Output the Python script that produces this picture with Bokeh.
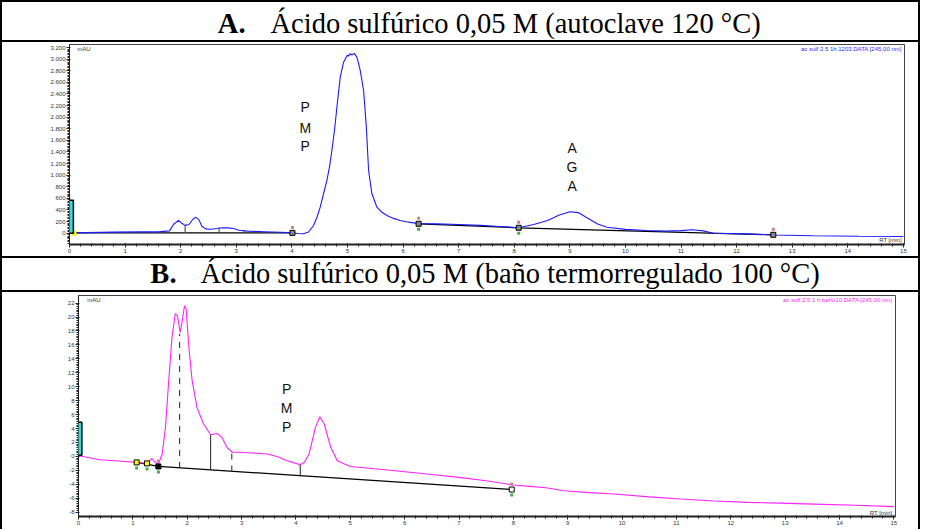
from bokeh.plotting import figure
from bokeh.models import Range1d, FixedTicker, Label, Spacer
from bokeh.layouts import column, row
from bokeh.embed import file_html
from bokeh.resources import INLINE
from bokeh.core.properties import value

# ---------------- Panel A data (autoclave 120 °C) ----------------
rt_a = [0, 0.3, 0.8, 1.3, 1.6, 1.8, 1.87, 1.96, 2.02, 2.08, 2.15, 2.22, 2.27, 2.33, 2.38,
        2.45, 2.55, 2.65, 2.75, 2.85, 2.95, 3.05, 3.2, 3.5, 3.8, 4.01, 4.1, 4.21, 4.3,
        4.39, 4.45, 4.51, 4.57, 4.63, 4.68, 4.72, 4.77, 4.81, 4.87, 4.93, 4.97, 5.0,
        5.02, 5.05, 5.08, 5.12, 5.17, 5.23, 5.29, 5.34, 5.38, 5.44, 5.53, 5.62, 5.71,
        5.83, 5.95, 6.1, 6.28, 6.6, 7.0, 7.4, 7.8, 8.08, 8.35, 8.6, 8.8, 9.0, 9.15, 9.3,
        9.5, 9.67, 10.0, 10.38, 10.74, 11.0, 11.2, 11.4, 11.58, 12.18, 12.66, 13.38,
        14.2, 15.0]
mau_a = [0, 10, 18, 22, 22, 40, 150, 220, 170, 135, 150, 240, 276, 230, 120,
         75, 68, 80, 95, 92, 80, 50, 35, 25, 15, 6, -5, -10, 20,
         133, 270, 448, 680, 909, 1160, 1426, 1800, 2172, 2690, 2948, 3020, 3070,
         3052, 3095, 3070, 3100, 3035, 2805, 2460, 1828, 1081, 679, 448, 360, 305,
         255, 219, 190, 165, 160, 150, 135, 112, 95, 150, 219, 310, 370, 355, 270,
         160, 103, 65, 47, 35, 45, 60, 40, 0, -12, -30, -45,
         -52, -57]
base_a1_rt = [0.05, 4.01]
base_a1_mau = [5, 5]
base_a2_rt = [6.28, 8.08, 12.66]
base_a2_mau = [162, 93, -28]
drop_a_rt = [1.6, 2.08, 2.69, 3.14, 10.74]
drop_a_low = [5, 5, 5, 5, 23]
drop_a_high = [24, 135, 92, 40, 36]
mark_a_rt = [4.01, 6.28, 8.08, 12.66]
mark_a_mau = [5, 162, 93, -28]
start_a_rt = [0.08]
start_a_mau = [0]
pmp_a_rt = [4.24, 4.24, 4.24]
pmp_a_mau = [2167, 1822, 1495]
pmp_a_txt = ["P", "M", "P"]
aga_a_rt = [9.04, 9.04, 9.04]
aga_a_mau = [1476, 1148, 819]
aga_a_txt = ["A", "G", "A"]
y_ticks_a = [-200, 0, 200, 400, 600, 800, 1000, 1200, 1400, 1600, 1800, 2000,
             2200, 2400, 2600, 2800, 3000, 3200]
y_labels_a = ["-200", "0", "200", "400", "600", "800", "1.000", "1.200", "1.400",
              "1.600", "1.800", "2.000", "2.200", "2.400", "2.600", "2.800",
              "3.000", "3.200"]

# ---------------- Panel B data (baño termorregulado 100 °C) ----------------
rt_b = [0, 0.4, 0.8, 1.07, 1.2, 1.26, 1.31, 1.35, 1.41, 1.47, 1.54, 1.6, 1.66, 1.72,
        1.78, 1.82, 1.87, 1.9, 1.95, 1.98, 2.03, 2.09, 2.18, 2.3, 2.43, 2.55, 2.64,
        2.73, 2.83, 2.98, 3.2, 3.47, 3.65, 3.84, 4.0, 4.08, 4.16, 4.24, 4.36, 4.44,
        4.52, 4.64, 4.76, 5.0, 5.5, 6.0, 6.5, 7.0, 7.5, 8.0, 8.3, 8.6, 8.93, 9.4,
        9.85, 10.5, 11.08, 11.7, 12.31, 12.9, 13.54, 14.3, 15.0]
mau_b = [0.1, -0.47, -0.7, -0.86, -0.95, -1.0, -0.6, -0.3, -0.86, -1.1, 0.34, 4.2,
         10.9, 17.1, 20.5, 20.2, 17.8, 19.0, 21.6, 21.2, 15.7, 10.9, 7.0, 4.65, 3.1,
         3.3, 2.7, 1.3, 0.6, 0.6, 0.5, 0.34, 0.0, -0.62, -1.0, -1.2, -0.8, 0.34, 4.2,
         5.7, 4.65, 1.3, -0.62, -1.44, -1.8, -2.2, -2.6, -3.0, -3.5, -4.1, -4.3,
         -4.5, -4.93, -5.2, -5.4, -5.8, -6.1, -6.4, -6.6, -6.7, -6.84, -7.0, -7.2]
base_b_rt = [1.07, 1.47, 7.97]
base_b_mau = [-0.86, -1.44, -4.75]
drop_b_rt = [1.86, 2.43, 2.82, 4.08]
drop_b_low = [-1.66, -1.96, -2.17, -2.85]
drop_b_high = [17.6, 3.1, 0.6, -1.2]
drop_b_dash = ["dashed", "solid", "dashed", "solid"]
mark_b_rt = [1.07, 1.26, 1.47, 7.97]
mark_b_mau = [-0.86, -1.0, -1.44, -4.75]
mark_b_fill = ["#ffff00", "#ffff00", "#000000", "#ffffff"]
pmp_b_rt = [3.83, 3.83, 3.83]
pmp_b_mau = [9.73, 7.0, 4.27]
pmp_b_txt = ["P", "M", "P"]
y_ticks_b = [-8, -6, -4, -2, 0, 2, 4, 6, 8, 10, 12, 14, 16, 18, 20, 22]
y_labels_b = ["-8", "-6", "-4", "-2", "0", "2", "4", "6", "8", "10", "12", "14",
              "16", "18", "20", "22"]

x_ticks = list(range(0, 16))
x_labels = [str(i) for i in x_ticks]

title_a_bold = "A."
title_a_text = "Ácido sulfúrico 0,05 M (autoclave 120 °C)"
title_b_bold = "B."
title_b_text = "Ácido sulfúrico 0,05 M (baño termorregulado 100 °C)"
file_a = "ac sulf 2.5 1h 1203.DATA [245,00 nm]"
file_b = "ac sulf 2.5 1 h baño10.DATA [245,00 nm]"
scale_txt = "WVL:245 nm"

SANS = "Liberation Sans"
SERIF = "Liberation Serif"
W = 920


def title_fig(h, bold, txt, xb, xt, yb):
    f = figure(width=W, height=h, x_range=Range1d(0, W), y_range=Range1d(0, h),
               toolbar_location=None, output_backend="svg", min_border=0)
    f.axis.visible = False
    f.grid.visible = False
    f.outline_line_color = "black"
    f.outline_line_width = 3
    f.add_layout(Label(x=xb, y=yb, text=bold, text_align="right", text_font=SERIF,
                       text_font_size="28.5px", text_font_style="bold",
                       text_baseline="bottom", text_color="black"))
    f.add_layout(Label(x=xt, y=yb, text=txt, text_align="left", text_font=SERIF,
                       text_font_size="28.5px", text_baseline="bottom",
                       text_color="black"))
    return f


def panel(h, xr, yr, ml, mr, mt, mb, yticks, ylabels, yminor):
    p = figure(width=W - 4, height=h, x_range=xr, y_range=yr,
               toolbar_location=None, output_backend="svg",
               min_border_left=ml, min_border_right=mr, min_border_top=mt,
               min_border_bottom=mb)
    p.grid.visible = False
    p.outline_line_color = "#444444"
    p.outline_line_width = 1
    p.xaxis.ticker = FixedTicker(ticks=x_ticks,
                                 minor_ticks=[i / 5 for i in range(0, 76)])
    p.xaxis.major_label_overrides = dict(zip(x_ticks, x_labels))
    p.yaxis.ticker = FixedTicker(ticks=yticks, minor_ticks=yminor)
    p.yaxis.major_label_overrides = dict(zip(yticks, ylabels))
    for ax in (p.xaxis[0], p.yaxis[0]):
        ax.major_label_text_font = SANS
        ax.major_label_text_font_size = "6px"
        ax.major_label_text_color = "#333333"
        ax.major_label_standoff = 1
        ax.axis_line_color = "#222222"
        ax.major_tick_line_color = "#222222"
        ax.minor_tick_line_color = "#222222"
        ax.major_tick_out = 3
        ax.major_tick_in = 1
        ax.minor_tick_out = 2
        ax.minor_tick_in = 0
    p.xaxis.axis_line_width = 2
    p.xaxis.minor_tick_in = 1
    return p


def scale_box(p, x, y):
    p.add_layout(Label(x=x, y=y, text=scale_txt, angle=90, angle_units="deg",
                       text_align="center", text_baseline="middle", text_font=SANS,
                       text_font_size="5px", text_color="#335555",
                       background_fill_color="#33dddd", background_fill_alpha=1,
                       border_line_color="black", border_line_width=1.5, padding=2))


# ---------------- Panel A ----------------
ya_minor = [v for v in range(-200, 3201, 25)]
pa = panel(214, Range1d(0, 15.02), Range1d(-195, 3253), 67, 14, 2, 12,
           y_ticks_a, y_labels_a, ya_minor)
pa.line(base_a1_rt, base_a1_mau, line_color="black", line_width=1.2)
pa.line(base_a2_rt, base_a2_mau, line_color="black", line_width=1.2)
pa.segment(x0=drop_a_rt, y0=drop_a_low, x1=drop_a_rt, y1=drop_a_high,
           line_color="#555555", line_width=1.2)
pa.line(rt_a, mau_a, line_color="#1a1aff", line_width=1.1)
pa.scatter(mark_a_rt, [m + 95 for m in mark_a_mau], marker="square", size=3,
           fill_color="#d08080", line_color=None)
pa.scatter(mark_a_rt[1:3], [m - 95 for m in mark_a_mau[1:3]], marker="square", size=3,
           fill_color="#40b040", line_color=None)
pa.scatter(mark_a_rt, mark_a_mau, marker="square", size=5, fill_color="#888888",
           line_color="black", line_width=1)
pa.scatter(start_a_rt, start_a_mau, marker="square", size=5, fill_color="#ffee00",
           line_color=None)
pa.text(pmp_a_rt, pmp_a_mau, text=pmp_a_txt, text_font=value(SANS),
        text_font_size="14px", text_align="center", text_baseline="middle",
        text_color="#111111")
pa.text(aga_a_rt, aga_a_mau, text=aga_a_txt, text_font=value(SANS),
        text_font_size="14px", text_align="center", text_baseline="middle",
        text_color="#111111")
scale_box(pa, -0.02, 284)
pa.add_layout(Label(x=0.14, y=3225, text="mAU", text_font=SANS, text_font_size="6px",
                    text_baseline="top", text_color="#333333"))
pa.add_layout(Label(x=14.97, y=3225, text=file_a, text_font=SANS, text_font_size="6px",
                    text_baseline="top", text_align="right", text_color="#2a2aff"))
pa.add_layout(Label(x=14.97, y=-126, text="RT [min]", text_font=SANS,
                    text_font_size="6px", text_baseline="middle", text_align="right",
                    text_color="#333333"))

# ---------------- Panel B ----------------
yb_minor = [v / 4 for v in range(-32, 89)]
pb = panel(237, Range1d(0, 15.03), Range1d(-8.62, 23.09), 76, 23, 3, 13,
           y_ticks_b, y_labels_b, yb_minor)
pb.line(base_b_rt, base_b_mau, line_color="black", line_width=1.2)
for xr_, lo, hi, ds in zip(drop_b_rt, drop_b_low, drop_b_high, drop_b_dash):
    pb.line([xr_, xr_], [lo, hi], line_color="#333333", line_width=1.1, line_dash=ds)
pb.line(rt_b, mau_b, line_color="#ff22ff", line_width=1.1)
pb.scatter(mark_b_rt[2:], [m + 0.8 for m in mark_b_mau[2:]], marker="square", size=3,
           fill_color="#d08080", line_color=None)
pb.scatter(mark_b_rt, [m - 0.8 for m in mark_b_mau], marker="square", size=3,
           fill_color="#40b040", line_color=None)
pb.scatter(mark_b_rt, mark_b_mau, marker="square", size=5, fill_color=mark_b_fill,
           line_color="black", line_width=1)
pb.text(pmp_b_rt, pmp_b_mau, text=pmp_b_txt, text_font=value(SANS),
        text_font_size="14px", text_align="center", text_baseline="middle",
        text_color="#111111")
scale_box(pb, -0.03, 2.54)
pb.add_layout(Label(x=0.16, y=22.9, text="mAU", text_font=SANS, text_font_size="6px",
                    text_baseline="top", text_color="#333333"))
pb.add_layout(Label(x=14.97, y=22.9, text=file_b, text_font=SANS, text_font_size="6px",
                    text_baseline="top", text_align="right", text_color="#ff22ff"))
pb.add_layout(Label(x=14.97, y=-8.05, text="RT [min]", text_font=SANS,
                    text_font_size="6px", text_baseline="middle", text_align="right",
                    text_color="#333333"))

# ---------------- Titles ----------------
ta = title_fig(42, title_a_bold, title_a_text, 245, 270, 4)
tb = title_fig(36, title_b_bold, title_b_text, 176, 200, 3.5)


def bar(h):
    return Spacer(width=2, height=h, styles={"background-color": "black"})


layout = column(
    ta,
    row(bar(214), pa, bar(214), spacing=0),
    tb,
    row(bar(237), pb, bar(237), spacing=0),
    spacing=0,
)

open("out.html", "w").write(file_html(layout, INLINE))
